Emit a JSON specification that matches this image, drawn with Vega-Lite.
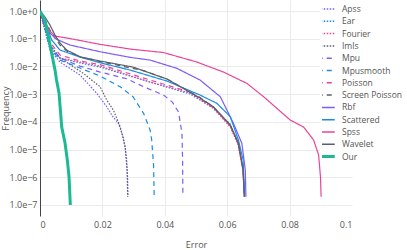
{
  "$schema": "https://vega.github.io/schema/vega-lite/v6.json",
  "width": 312,
  "height": 216,
  "autosize": "none",
  "padding": {"left": 40, "top": 0, "right": 55, "bottom": 34},
  "background": "white",
  "config": {"view": {"stroke": null}, "font": "Open Sans"},
  "data": {"values": [
    {"method":"Apss","error":0,"freq":1},{"method":"Apss","error":0.0016,"freq":0.206},{"method":"Apss","error":0.0032,"freq":0.0391},{"method":"Apss","error":0.00642,"freq":0.0144},{"method":"Apss","error":0.01284,"freq":0.0049},{"method":"Apss","error":0.0182,"freq":0.00107},{"method":"Apss","error":0.0214,"freq":0.000351},{"method":"Apss","error":0.023,"freq":0.000176},{"method":"Apss","error":0.0251,"freq":8.83e-5},{"method":"Apss","error":0.0267,"freq":2.9e-5},{"method":"Apss","error":0.0274,"freq":9.59e-6},{"method":"Apss","error":0.0278,"freq":4.18e-6},{"method":"Apss","error":0.0281,"freq":7.92e-7},{"method":"Apss","error":0.0282,"freq":1.98e-7},
    {"method":"Ear","error":0,"freq":1},{"method":"Ear","error":0.0016,"freq":0.206},{"method":"Ear","error":0.0032,"freq":0.0461},{"method":"Ear","error":0.00642,"freq":0.0201},{"method":"Ear","error":0.01284,"freq":0.0133},{"method":"Ear","error":0.01926,"freq":0.00951},{"method":"Ear","error":0.0353,"freq":0.00273},{"method":"Ear","error":0.0481,"freq":0.00101},{"method":"Ear","error":0.0555,"freq":0.000315},{"method":"Ear","error":0.061,"freq":8.33e-5},{"method":"Ear","error":0.0635,"freq":1.72e-5},{"method":"Ear","error":0.065,"freq":2.15e-6},{"method":"Ear","error":0.0655,"freq":1.98e-7},
    {"method":"Fourier","error":0,"freq":1},{"method":"Fourier","error":0.0016,"freq":0.264},{"method":"Fourier","error":0.0032,"freq":0.0593},{"method":"Fourier","error":0.00642,"freq":0.0201},{"method":"Fourier","error":0.01284,"freq":0.0144},{"method":"Fourier","error":0.01926,"freq":0.0103},{"method":"Fourier","error":0.0353,"freq":0.00273},{"method":"Fourier","error":0.0481,"freq":0.0011},{"method":"Fourier","error":0.0555,"freq":0.000315},{"method":"Fourier","error":0.061,"freq":6.49e-5},{"method":"Fourier","error":0.0635,"freq":1.45e-5},{"method":"Fourier","error":0.065,"freq":1.82e-6},{"method":"Fourier","error":0.0655,"freq":1.98e-7},
    {"method":"Imls","error":0,"freq":1},{"method":"Imls","error":0.0016,"freq":0.243},{"method":"Imls","error":0.0032,"freq":0.0593},{"method":"Imls","error":0.00642,"freq":0.0201},{"method":"Imls","error":0.0139,"freq":0.00564},{"method":"Imls","error":0.01926,"freq":0.00185},{"method":"Imls","error":0.0214,"freq":0.000612},{"method":"Imls","error":0.0235,"freq":0.000267},{"method":"Imls","error":0.0257,"freq":6.65e-5},{"method":"Imls","error":0.0273,"freq":1.26e-5},{"method":"Imls","error":0.0279,"freq":1.82e-6},{"method":"Imls","error":0.0281,"freq":1.98e-7},
    {"method":"Mpu","error":0,"freq":1},{"method":"Mpu","error":0.0016,"freq":0.243},{"method":"Mpu","error":0.0032,"freq":0.0593},{"method":"Mpu","error":0.00642,"freq":0.0201},{"method":"Mpu","error":0.01284,"freq":0.0103},{"method":"Mpu","error":0.01926,"freq":0.00628},{"method":"Mpu","error":0.0278,"freq":0.0036},{"method":"Mpu","error":0.0332,"freq":0.00185},{"method":"Mpu","error":0.0396,"freq":0.000929},{"method":"Mpu","error":0.0424,"freq":0.000519},{"method":"Mpu","error":0.0444,"freq":0.000226},{"method":"Mpu","error":0.0455,"freq":3.85e-5},{"method":"Mpu","error":0.0457,"freq":4.18e-6},{"method":"Mpu","error":0.0458,"freq":1.98e-7},
    {"method":"Mpusmooth","error":0,"freq":1},{"method":"Mpusmooth","error":0.0016,"freq":0.224},{"method":"Mpusmooth","error":0.0032,"freq":0.0461},{"method":"Mpusmooth","error":0.00642,"freq":0.017},{"method":"Mpusmooth","error":0.01284,"freq":0.00876},{"method":"Mpusmooth","error":0.01926,"freq":0.0045},{"method":"Mpusmooth","error":0.0257,"freq":0.00185},{"method":"Mpusmooth","error":0.0298,"freq":0.000805},{"method":"Mpusmooth","error":0.0332,"freq":0.000203},{"method":"Mpusmooth","error":0.0353,"freq":5.06e-5},{"method":"Mpusmooth","error":0.0358,"freq":2.2e-5},{"method":"Mpusmooth","error":0.0364,"freq":2.75e-6},{"method":"Mpusmooth","error":0.0366,"freq":1.98e-7},
    {"method":"Poisson","error":0,"freq":1},{"method":"Poisson","error":0.0016,"freq":0.287},{"method":"Poisson","error":0.0032,"freq":0.076},{"method":"Poisson","error":0.00642,"freq":0.0258},{"method":"Poisson","error":0.01284,"freq":0.0157},{"method":"Poisson","error":0.01926,"freq":0.0117},{"method":"Poisson","error":0.0353,"freq":0.00323},{"method":"Poisson","error":0.0481,"freq":0.00119},{"method":"Poisson","error":0.0555,"freq":0.000328},{"method":"Poisson","error":0.061,"freq":7.05e-5},{"method":"Poisson","error":0.0636,"freq":1.58e-5},{"method":"Poisson","error":0.0651,"freq":1.82e-6},{"method":"Poisson","error":0.0655,"freq":1.98e-7},
    {"method":"Screen Poisson","error":0,"freq":1},{"method":"Screen Poisson","error":0.0016,"freq":0.473},{"method":"Screen Poisson","error":0.0032,"freq":0.206},{"method":"Screen Poisson","error":0.00481,"freq":0.106},{"method":"Screen Poisson","error":0.00642,"freq":0.0593},{"method":"Screen Poisson","error":0.00857,"freq":0.036},{"method":"Screen Poisson","error":0.01284,"freq":0.0218},{"method":"Screen Poisson","error":0.01926,"freq":0.015},{"method":"Screen Poisson","error":0.0331,"freq":0.00711},{"method":"Screen Poisson","error":0.0407,"freq":0.00351},{"method":"Screen Poisson","error":0.0513,"freq":0.000754},{"method":"Screen Poisson","error":0.0556,"freq":0.000342},{"method":"Screen Poisson","error":0.061,"freq":7.35e-5},{"method":"Screen Poisson","error":0.0636,"freq":1.58e-5},{"method":"Screen Poisson","error":0.0651,"freq":1.82e-6},{"method":"Screen Poisson","error":0.0655,"freq":1.98e-7},
    {"method":"Rbf","error":0,"freq":1},{"method":"Rbf","error":0.0016,"freq":0.312},{"method":"Rbf","error":0.0032,"freq":0.161},{"method":"Rbf","error":0.00536,"freq":0.0951},{"method":"Rbf","error":0.00963,"freq":0.0593},{"method":"Rbf","error":0.01926,"freq":0.034},{"method":"Rbf","error":0.0289,"freq":0.0213},{"method":"Rbf","error":0.0353,"freq":0.017},{"method":"Rbf","error":0.0439,"freq":0.00854},{"method":"Rbf","error":0.0513,"freq":0.00323},{"method":"Rbf","error":0.0578,"freq":0.000805},{"method":"Rbf","error":0.062,"freq":8.83e-5},{"method":"Rbf","error":0.0647,"freq":1.67e-5},{"method":"Rbf","error":0.0658,"freq":1.82e-6},{"method":"Rbf","error":0.066,"freq":1.98e-7},
    {"method":"Scattered","error":0,"freq":1},{"method":"Scattered","error":0.0016,"freq":0.401},{"method":"Scattered","error":0.00375,"freq":0.0897},{"method":"Scattered","error":0.00642,"freq":0.0391},{"method":"Scattered","error":0.01284,"freq":0.0218},{"method":"Scattered","error":0.01926,"freq":0.0136},{"method":"Scattered","error":0.0289,"freq":0.00741},{"method":"Scattered","error":0.0407,"freq":0.00297},{"method":"Scattered","error":0.0513,"freq":0.000929},{"method":"Scattered","error":0.0567,"freq":0.000466},{"method":"Scattered","error":0.061,"freq":0.000153},{"method":"Scattered","error":0.0636,"freq":2.2e-5},{"method":"Scattered","error":0.0651,"freq":4.18e-6},{"method":"Scattered","error":0.0656,"freq":1.98e-7},
    {"method":"Spss","error":0,"freq":1},{"method":"Spss","error":0.0016,"freq":0.401},{"method":"Spss","error":0.0032,"freq":0.19},{"method":"Spss","error":0.00481,"freq":0.125},{"method":"Spss","error":0.00963,"freq":0.1017},{"method":"Spss","error":0.01926,"freq":0.0628},{"method":"Spss","error":0.0289,"freq":0.0425},{"method":"Spss","error":0.0396,"freq":0.0318},{"method":"Spss","error":0.0503,"freq":0.0144},{"method":"Spss","error":0.0588,"freq":0.00628},{"method":"Spss","error":0.0663,"freq":0.00245},{"method":"Spss","error":0.0717,"freq":0.000805},{"method":"Spss","error":0.0802,"freq":0.000116},{"method":"Spss","error":0.0845,"freq":6.49e-5},{"method":"Spss","error":0.0877,"freq":2.2e-5},{"method":"Spss","error":0.0893,"freq":6.33e-6},{"method":"Spss","error":0.0899,"freq":1.02e-6},{"method":"Spss","error":0.0901,"freq":1.98e-7},
    {"method":"Wavelet","error":0,"freq":1},{"method":"Wavelet","error":0.0016,"freq":0.607},{"method":"Wavelet","error":0.0032,"freq":0.312},{"method":"Wavelet","error":0.00481,"freq":0.136},{"method":"Wavelet","error":0.00642,"freq":0.07},{"method":"Wavelet","error":0.00857,"freq":0.0391},{"method":"Wavelet","error":0.01284,"freq":0.0224},{"method":"Wavelet","error":0.01926,"freq":0.0157},{"method":"Wavelet","error":0.0298,"freq":0.00951},{"method":"Wavelet","error":0.0407,"freq":0.00351},{"method":"Wavelet","error":0.0513,"freq":0.000723},{"method":"Wavelet","error":0.0556,"freq":0.000351},{"method":"Wavelet","error":0.061,"freq":7.66e-5},{"method":"Wavelet","error":0.0636,"freq":1.67e-5},{"method":"Wavelet","error":0.0651,"freq":1.82e-6},{"method":"Wavelet","error":0.0655,"freq":1.98e-7},
    {"method":"Our","error":0,"freq":1},{"method":"Our","error":0.0016,"freq":0.473},{"method":"Our","error":0.0029,"freq":0.0897},{"method":"Our","error":0.00417,"freq":0.017},{"method":"Our","error":0.00481,"freq":0.00741},{"method":"Our","error":0.0053,"freq":0.00323},{"method":"Our","error":0.0061,"freq":0.0011},{"method":"Our","error":0.00696,"freq":6.49e-5},{"method":"Our","error":0.00802,"freq":1.72e-5},{"method":"Our","error":0.00876,"freq":4.18e-6},{"method":"Our","error":0.00931,"freq":1.02e-6},{"method":"Our","error":0.00972,"freq":9.9e-8}
  ]},
  "mark": {"type": "line", "clip": true},
  "encoding": {
    "x": {
      "field": "error", "type": "quantitative",
      "scale": {"domain": [0, 0.1], "nice": false, "zero": false},
      "axis": {
        "title": "Error", "values": [0, 0.02, 0.04, 0.06, 0.08, 0.1], "format": "~g",
        "domain": false, "ticks": false,
        "gridColor": {"condition": {"test": "datum.value === 0 || datum.value >= 0.1", "value": "transparent"}, "value": "#ebebeb"},
        "labelFontSize": 9, "labelColor": "#555", "labelPadding": 4,
        "titleFontSize": 9, "titleFontWeight": "normal", "titleColor": "#555", "titlePadding": 11
      }
    },
    "y": {
      "field": "freq", "type": "quantitative",
      "scale": {"type": "log", "domain": [3.98e-8, 2.512], "nice": false},
      "axis": {
        "title": "Frequency", "values": [1, 0.1, 0.01, 0.001, 0.0001, 1e-5, 1e-6, 1e-7],
        "labelExpr": "datum.value >= 0.5 ? '1.0e+0' : '1.0e\u2212' + round(-log(datum.value)/LN10)",
        "domain": true, "domainColor": "#444", "ticks": false, "gridColor": "#ebebeb",
        "labelFontSize": 9, "labelColor": "#555", "labelPadding": 3,
        "titleFontSize": 9, "titleFontWeight": "normal", "titleColor": "#555",
        "titleX": -35, "titleY": 108, "titleBaseline": "middle", "titleAlign": "center", "titleAngle": -90
      }
    },
    "color": {
      "field": "method", "type": "nominal",
      "scale": {
        "domain": ["Apss","Ear","Fourier","Imls","Mpu","Mpusmooth","Poisson","Screen Poisson","Rbf","Scattered","Spss","Wavelet","Our"],
        "range": ["#7c5cf5","#1a8be6","#e8459a","#5c5f66","#7c5cf5","#1a8be6","#e8459a","#5c5f66","#7c5cf5","#1a8be6","#e8459a","#5c5f66","#1db992"]
      },
      "legend": {
        "title": null, "orient": "none", "legendX": 280, "legendY": 2,
        "symbolType": "stroke", "symbolSize": 289, "symbolStrokeWidth": 1.5, "clipHeight": 10, "rowPadding": 2.3,
        "labelFontSize": 8.5, "labelColor": "#555", "labelOffset": 11.5,
        "fillColor": "white", "padding": 2,
        "encode": {"symbols": {"update": {"size": {"value": 289}, "strokeWidth": {"signal": "datum.label === 'Our' ? 3 : 1.5"}}}}
      }
    },
    "strokeDash": {
      "field": "method", "type": "nominal",
      "scale": {
        "domain": ["Apss","Ear","Fourier","Imls","Mpu","Mpusmooth","Poisson","Screen Poisson","Rbf","Scattered","Spss","Wavelet","Our"],
        "range": [[1.5,1.5],[1.5,1.5],[1.5,1.5],[1.5,1.5],[5,4],[5,4],[5,4],[5,4],[1,0],[1,0],[1,0],[1,0],[1,0]]
      },
      "legend": null
    },
    "strokeWidth": {
      "condition": {"test": "datum.method === 'Our'", "value": 3},
      "value": 1.2
    }
  }
}
